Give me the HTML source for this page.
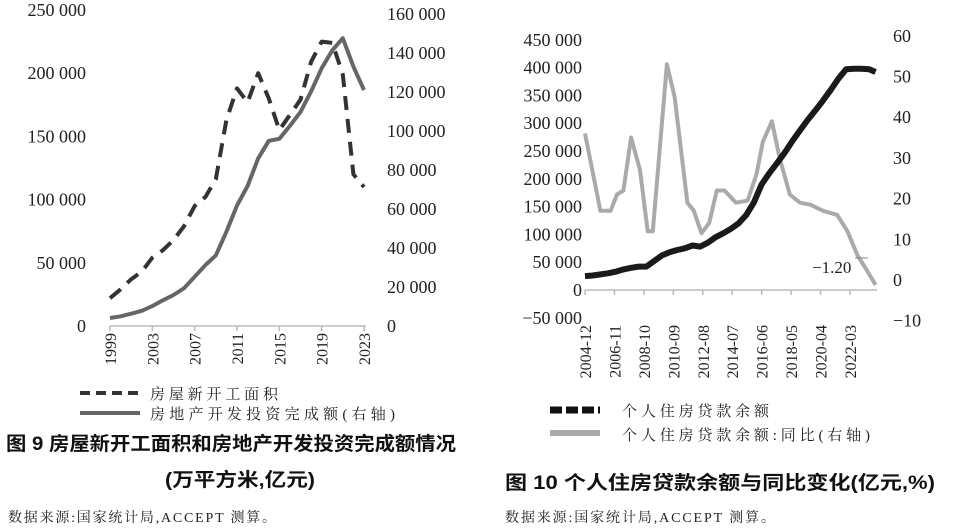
<!DOCTYPE html>
<html><head><meta charset="utf-8">
<style>
html,body{margin:0;padding:0;background:#fff;}
body{width:972px;height:530px;overflow:hidden;position:relative;}
svg{position:absolute;left:0;top:0;}
.t{font-family:"Liberation Serif","Noto Serif CJK SC",serif;fill:#222;}
.c{font-family:"Liberation Serif","Noto Serif CJK SC",serif;fill:#222;font-size:15px;}
.cap{font-family:"Liberation Sans","Noto Sans CJK SC",sans-serif;fill:#111;font-size:19px;font-weight:bold;}
.src{font-family:"Liberation Serif","Noto Serif CJK SC",serif;fill:#222;font-size:14px;}
</style></head>
<body>
<svg id="chart" width="972" height="530" viewBox="0 0 972 530">
  <g id="left"></g>
  <g id="right"></g>
  <line x1="80" y1="393" x2="140" y2="393" stroke="#333" stroke-width="4" stroke-dasharray="10,6"/>
  <text class="c" x="150" y="399" textLength="128" lengthAdjust="spacing">房屋新开工面积</text>
  <line x1="80" y1="413" x2="140" y2="413" stroke="#666" stroke-width="4"/>
  <text class="c" x="150" y="419" textLength="245" lengthAdjust="spacing">房地产开发投资完成额(右轴)</text>
  <text class="cap" x="6" y="450" textLength="450" lengthAdjust="spacingAndGlyphs">图 9 房屋新开工面积和房地产开发投资完成额情况</text>
  <text class="cap" x="165" y="486" textLength="150" lengthAdjust="spacingAndGlyphs">(万平方米,亿元)</text>
  <text class="src" x="8" y="522" textLength="268" lengthAdjust="spacing">数据来源:国家统计局,ACCEPT 测算。</text>
  <line x1="550" y1="410" x2="600" y2="410" stroke="#111" stroke-width="7" stroke-dasharray="12,4"/>
  <text class="c" x="622" y="416" textLength="147" lengthAdjust="spacing">个人住房贷款余额</text>
  <line x1="550" y1="433" x2="600" y2="433" stroke="#aaa" stroke-width="6"/>
  <text class="c" x="622" y="440" textLength="248" lengthAdjust="spacing">个人住房贷款余额:同比(右轴)</text>
  <text class="cap" x="505" y="489" textLength="430" lengthAdjust="spacingAndGlyphs">图 10 个人住房贷款余额与同比变化(亿元,%)</text>
  <text class="src" x="505" y="522" textLength="270" lengthAdjust="spacing">数据来源:国家统计局,ACCEPT 测算。</text>
</svg>
<script>
const leftYears = [1999,2000,2001,2002,2003,2004,2005,2006,2007,2008,2009,2010,2011,2012,2013,2014,2015,2016,2017,2018,2019,2020,2021,2022,2023];
const housingStarts = [22000,29000,37000,43000,54000,60000,68000,79000,95000,102000,116000,163000,188000,177000,200000,180000,155000,167000,179000,209000,225000,224000,199000,120000,110000];
const investment = [4100,5000,6300,7800,10200,13200,15900,19400,25300,31200,36200,48300,61800,71800,86000,95000,96000,102600,109800,120300,132200,141400,147600,133000,121000];
const leftTicksL = [0,50000,100000,150000,200000,250000];
const leftTicksR = [0,20000,40000,60000,80000,100000,120000,140000,160000];
const leftXLabels = [1999,2003,2007,2011,2015,2019,2023];
const balDates = ["2004-12","2005-06","2005-12","2006-06","2006-12","2007-06","2007-12","2008-06","2008-12","2009-06","2009-12","2010-06","2010-12","2011-06","2011-12","2012-06","2012-12","2013-06","2013-12","2014-06","2014-12","2015-06","2015-12","2016-06","2016-12","2017-06","2017-12","2018-06","2018-12","2019-06","2019-12","2020-06","2020-12","2021-06","2021-12","2022-06","2022-12","2023-06","2023-11"];
const balance = [25000,26000,28000,30000,33000,37000,40000,42000,42000,52000,62000,68000,72000,75000,80000,78000,85000,95000,102000,110000,120000,135000,158000,190000,210000,228000,247000,268000,287000,306000,323000,341000,360000,380000,397000,398000,398000,397000,392000];
const yoyDates = ["2004-12","2005-12","2006-08","2007-01","2007-06","2007-12","2008-07","2009-01","2009-05","2010-04","2010-10","2011-08","2012-01","2012-07","2013-01","2013-07","2014-01","2014-10","2015-07","2016-02","2016-07","2017-02","2017-08","2018-04","2018-12","2019-08","2020-06","2021-05","2022-01","2022-09","2023-03","2023-11"];
const yoy = [36,17,17,21,22,35,27,12,12,53,45,19,17,11.5,14,22,22,19,19.5,26,34,39,30,21,19,18.5,17,16,12,6,3,-1.2];
const rightTicksL = [-50000,0,50000,100000,150000,200000,250000,300000,350000,400000,450000];
const rightTicksR = [-10,0,10,20,30,40,50,60];
const rightXLabels = ["2004-12","2006-11","2008-10","2010-09","2012-08","2014-07","2016-06","2018-05","2020-04","2022-03"];
const lastLabel = "−1.20";

const NS="http://www.w3.org/2000/svg";
function mk(parent,tag,attrs){const e=document.createElementNS(NS,tag);for(const k in attrs)e.setAttribute(k,attrs[k]);parent.appendChild(e);return e;}
function fmt(v){const s=Math.abs(v).toString().replace(/\B(?=(\d{3})+(?!\d))/g," ");return (v<0?"−":"")+s;}

const L=document.getElementById('left');
const lx=y=>110+(y-1999)*(254/24);
const lyL=v=>326-v/250000*316;
const lyR=v=>326-v/160000*312;
leftTicksL.forEach(v=>{const t=mk(L,'text',{x:86,y:lyL(v)+6,'text-anchor':'end','font-size':18,class:'t'});t.textContent=fmt(v);

});
leftTicksR.forEach(v=>{const t=mk(L,'text',{x:387,y:lyR(v)+6,'font-size':18,class:'t'});t.textContent=fmt(v);

});
const lax=mk(L,'line',{x1:110,y1:326,x2:366,y2:326,stroke:'#bbb','stroke-width':1.5});


leftXLabels.forEach(y=>{const x=lx(y);const tk=mk(L,'line',{x1:x,y1:326,x2:x,y2:331,stroke:'#bbb','stroke-width':1.5});


const t=mk(L,'text',{x:0,y:0,'text-anchor':'end','font-size':16,class:'t',transform:`translate(${x+6},333) rotate(-90)`});t.textContent=y;

});
const dpts=leftYears.map((y,i)=>lx(y).toFixed(1)+','+lyL(housingStarts[i]).toFixed(1)).join(' ');
const dl=mk(L,'polyline',{points:dpts,fill:'none',stroke:'#333','stroke-width':4,'stroke-dasharray':'14,9','stroke-linejoin':'round'});


const spts=leftYears.map((y,i)=>lx(y).toFixed(1)+','+lyR(investment[i]).toFixed(1)).join(' ');
const sl=mk(L,'polyline',{points:spts,fill:'none',stroke:'#666','stroke-width':4,'stroke-linejoin':'round'});



const R=document.getElementById('right');
const mi=d=>{const [y,m]=d.split('-').map(Number);return (y-2004)*12+(m-12);};
const rx=d=>585+mi(d)*1.28;
const ryL=v=>290-v/50000*27.8;
const ryR=v=>280-v*4.07;
rightTicksL.forEach(v=>{const t=mk(R,'text',{x:582,y:ryL(v)+6,'text-anchor':'end','font-size':18,class:'t'});t.textContent=fmt(v);

});
rightTicksR.forEach(v=>{const t=mk(R,'text',{x:893,y:ryR(v)+6,'font-size':18,class:'t'});t.textContent=fmt(v);

});
const rax=mk(R,'line',{x1:585,y1:290,x2:877,y2:290,stroke:'#bbb','stroke-width':1.5});


rightXLabels.forEach(d=>{const x=rx(d);const tk=mk(R,'line',{x1:x,y1:290,x2:x,y2:295,stroke:'#bbb','stroke-width':1.5});


const t=mk(R,'text',{x:0,y:0,'text-anchor':'end','font-size':16,class:'t',transform:`translate(${x+6},325) rotate(-90)`});t.textContent=d;

});
const gpts=yoyDates.map((d,i)=>rx(d).toFixed(1)+','+ryR(yoy[i]).toFixed(1)).join(' ');
const gl=mk(R,'polyline',{points:gpts,fill:'none',stroke:'#aaa','stroke-width':4,'stroke-linejoin':'round'});


const bpts=balDates.map((d,i)=>rx(d).toFixed(1)+','+ryL(balance[i]).toFixed(1)).join(' ');
const bl=mk(R,'polyline',{points:bpts,fill:'none',stroke:'#1a1a1a','stroke-width':6,'stroke-linejoin':'round'});


const ld=mk(R,'line',{x1:855,y1:258,x2:868,y2:258,stroke:'#888','stroke-width':1});


const lt=mk(R,'text',{x:812,y:273,'font-size':17,class:'t'});lt.textContent=lastLabel;


</script>
</body></html>
